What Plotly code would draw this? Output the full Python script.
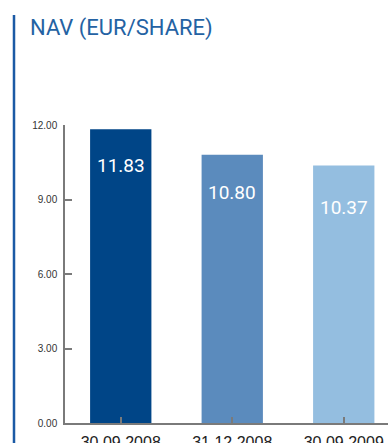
import plotly.graph_objects as go

# NAV per share at each reporting date
dates = ["30.09.2008", "31.12.2008", "30.09.2009"]
nav = [11.83, 10.80, 10.37]
bar_colors = ["#004587", "#5b8bbd", "#94bee0"]
label_shift = [-36, -38, -42]

W, H = 388, 443
L, R, T, B = 65, 0, 125, 20
plot_w = W - L - R
plot_h = H - T - B
cat_px = 111.5  # pixel width of one category slot

fig = go.Figure(
    go.Bar(
        x=list(range(len(dates))),
        y=nav,
        marker=dict(color=bar_colors, line=dict(width=0)),
        width=0.55,
        hoverinfo="skip",
    )
)

# value labels printed inside the top of each bar
for i, v in enumerate(nav):
    fig.add_annotation(
        x=i, y=v, xref="x", yref="y",
        text=f"{v:.2f}", showarrow=False,
        yshift=label_shift[i], yanchor="middle",
        font=dict(family="Roboto", size=19, color="white"),
    )

# vertical accent rule on the left edge
px_to_xpaper = lambda px: (px - L) / plot_w
px_to_ypaper = lambda py: (H - B - py) / plot_h
fig.add_shape(
    type="line", xref="paper", yref="paper",
    x0=px_to_xpaper(14), x1=px_to_xpaper(14),
    y0=px_to_ypaper(15), y1=px_to_ypaper(H + 5),
    line=dict(color="#1b5aa5", width=2.5),
)

fig.update_layout(
    width=W, height=H,
    margin=dict(l=L, r=R, t=T, b=B, pad=0, autoexpand=False),
    paper_bgcolor="white", plot_bgcolor="white",
    showlegend=False,
    title=dict(
        text="NAV (EUR/SHARE)",
        x=30 / W, xanchor="left", xref="container",
        y=1 - 27 / H, yanchor="middle", yref="container",
        font=dict(family="Roboto", size=22, color="#2462a3"),
    ),
    xaxis=dict(
        range=[-0.5, -0.5 + plot_w / cat_px],
        tickmode="array",
        tickvals=list(range(len(dates))),
        ticktext=dates,
        tickson="boundaries",
        ticks="inside", ticklen=6, tickcolor="#7a7a7a", tickwidth=1.5,
        showline=True, linecolor="#7a7a7a", linewidth=1.5,
        showgrid=False, zeroline=False, automargin=False,
        tickfont=dict(family="Liberation Sans", size=16, color="#222222"),
        ticklabelstandoff=4,
    ),
    yaxis=dict(
        range=[0, 12],
        tickmode="array",
        tickvals=[0, 3, 6, 9, 12],
        ticktext=["0.00", "3.00", "6.00", "9.00", "12.00"],
        ticks="inside", ticklen=7, tickcolor="#7a7a7a", tickwidth=1.5,
        showline=True, linecolor="#7a7a7a", linewidth=1.5,
        showgrid=False, zeroline=False, automargin=False,
        tickfont=dict(family="Liberation Sans", size=10, color="#333333"),
        ticklabelstandoff=4,
    ),
)

fig.write_html("out.html")
